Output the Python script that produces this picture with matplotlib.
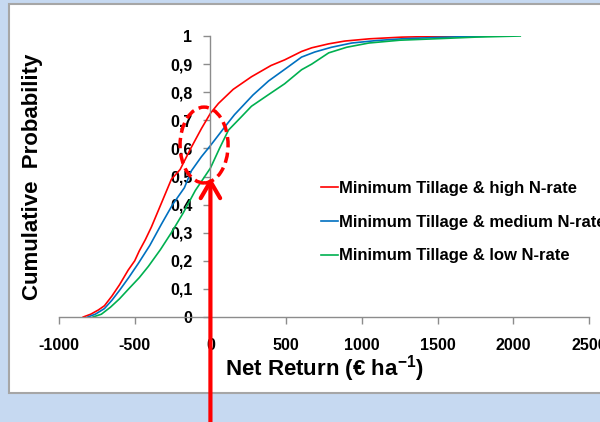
import matplotlib
matplotlib.use("Agg")
import matplotlib.pyplot as plt
from matplotlib.patches import Ellipse, Rectangle

plt.rcParams['font.family'] = ['Liberation Sans', 'DejaVu Sans']
plt.rcParams['font.weight'] = 'bold'
plt.rcParams['axes.unicode_minus'] = False
plt.rcParams['mathtext.fontset'] = 'custom'
plt.rcParams['mathtext.rm'] = 'Liberation Sans:bold'
plt.rcParams['mathtext.bf'] = 'Liberation Sans:bold'

# cumulative distributions (net return, probability)
high_x = [-840, -790, -740, -700, -650, -600, -543, -500, -470, -430, -390, -320, -258, -200,
          -130, -60, 0, 53, 150, 271, 400, 490, 602, 669, 780, 887, 1050, 1265, 1450, 1675]
high_y = [0, 0.01, 0.025, 0.04, 0.075, 0.115, 0.167, 0.20, 0.235, 0.275, 0.32, 0.41, 0.49,
          0.525, 0.60, 0.67, 0.725, 0.76, 0.81, 0.855, 0.895, 0.915, 0.945, 0.958, 0.972,
          0.982, 0.99, 0.996, 0.998, 1.0]

med_x = [-810, -760, -700, -650, -600, -540, -477, -400, -324, -250, -172, -126, -60, 0, 100,
         159, 281, 384, 500, 602, 689, 800, 933, 1100, 1265, 1500, 1700, 1880]
med_y = [0, 0.01, 0.03, 0.06, 0.095, 0.14, 0.19, 0.255, 0.33, 0.40, 0.46, 0.52, 0.57, 0.61,
         0.68, 0.72, 0.79, 0.84, 0.885, 0.925, 0.943, 0.96, 0.975, 0.984, 0.99, 0.995, 0.998,
         1.0]

low_x = [-775, -720, -660, -600, -540, -470, -410, -330, -258, -180, -100, 0, 60, 119, 200,
         271, 380, 490, 602, 669, 781, 900, 1046, 1250, 1483, 1750, 2046]
low_y = [0, 0.01, 0.035, 0.065, 0.10, 0.14, 0.18, 0.24, 0.30, 0.37, 0.45, 0.53, 0.60, 0.665,
         0.71, 0.75, 0.79, 0.83, 0.88, 0.90, 0.94, 0.96, 0.975, 0.985, 0.99, 0.996, 1.0]

labels = ["Minimum Tillage & high N-rate",
          "Minimum Tillage & medium N-rate",
          "Minimum Tillage & low N-rate"]
colors = ['#ff0000', '#0070c0', '#00b050']

xticks = [-1000, -500, 0, 500, 1000, 1500, 2000, 2500]
yticks = [0, 0.1, 0.2, 0.3, 0.4, 0.5, 0.6, 0.7, 0.8, 0.9, 1]
ytick_labels = ['0', '0,1', '0,2', '0,3', '0,4', '0,5', '0,6', '0,7', '0,8', '0,9', '1']

fig = plt.figure(figsize=(6, 4.22), dpi=100)
fig.patch.set_facecolor('#c6d9f1')

# white slide panel behind the chart
panel = Rectangle((9 / 600, 1 - 393 / 422), 1.2, 389 / 422, transform=fig.transFigure,
                  facecolor='white', edgecolor='#a6a6a6', lw=1.5, zorder=-10)
fig.patches.append(panel)

ax = fig.add_axes([59 / 600, 1 - 317 / 422, 530 / 600, 281 / 422])
ax.set_zorder(1)
ax.patch.set_alpha(0)

ax.plot(high_x, high_y, color=colors[0], lw=1.2, label=labels[0])
ax.plot(med_x, med_y, color=colors[1], lw=1.2, label=labels[1])
ax.plot(low_x, low_y, color=colors[2], lw=1.2, label=labels[2])

ax.set_xlim(-1000, 2500)
ax.set_ylim(0, 1)
ax.spines['left'].set_position(('data', 0))
ax.spines['right'].set_visible(False)
ax.spines['top'].set_visible(False)
for s in ['left', 'bottom']:
    ax.spines[s].set_color('#8c8c8c')
    ax.spines[s].set_linewidth(1)

ax.set_xticks(xticks)
ax.set_yticks(yticks)
ax.set_yticklabels(ytick_labels)
ax.tick_params(axis='both', colors='#8c8c8c', labelcolor='black', labelsize=11.5,
               length=5, width=1)
ax.tick_params(axis='x', pad=10)
ax.tick_params(axis='y', pad=8)

ax.set_xlabel(r'Net Return (€ ha$^{-1}$)', fontsize=16, fontweight='bold')
ax.xaxis.set_label_coords(0.5, -0.13)
ax.set_ylabel('Cumulative  Probability', fontsize=16, fontweight='bold')
ax.yaxis.set_label_coords(-0.03, 0.5)

# legend runs off the right edge as in the original slide
ax.legend(loc='upper left', bbox_to_anchor=(306 / 600, 1 - 166 / 422),
          bbox_transform=fig.transFigure, frameon=False, fontsize=12,
          handlelength=1.0, handletextpad=0.1, labelspacing=1.12)

# dashed ellipse and arrow pointing at net return 0
ell = Ellipse((-42, 0.612), 317, 0.27, fill=False, edgecolor='#ff0000', lw=2.5,
              linestyle=(0, (3, 1.5)), clip_on=False, zorder=5)
ax.add_patch(ell)
ax.annotate('', xy=(0, 0.497), xycoords='data',
            xytext=(0, -0.02), textcoords=('data', 'figure fraction'),
            arrowprops=dict(arrowstyle='->,head_length=0.6,head_width=0.35',
                            mutation_scale=20, color='#ff0000', lw=3,
                            shrinkA=0, shrinkB=0),
            annotation_clip=False)

fig.savefig('out.png', dpi=100, facecolor=fig.get_facecolor())
